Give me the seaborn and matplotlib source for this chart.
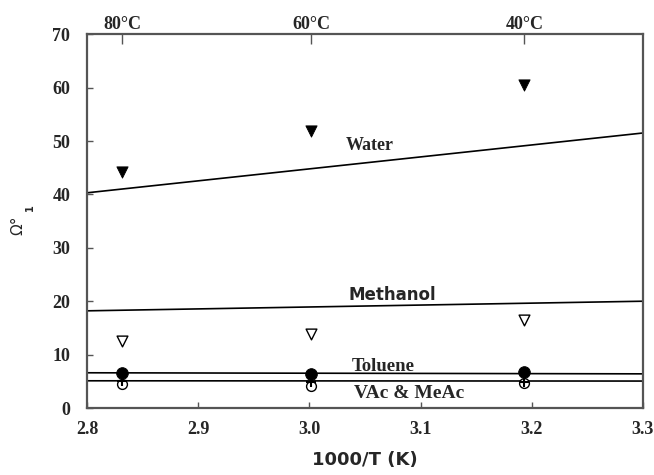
import pandas as pd
import matplotlib
matplotlib.use("Agg")
import matplotlib.pyplot as plt
import seaborn as sns

# inverse temperatures of the measurements (80, 60, 40 C)
inv_T = [2.8317, 3.0017, 3.1934]
temp_labels = ["80°C", "60°C", "40°C"]

# measured points
water_pts = [44.2, 51.9, 60.5]
methanol_pts = [12.5, 13.9, 16.5]
toluene_pts = [6.5, 6.3, 6.8]
vac_pts = [4.5, 4.2, 4.6]
meac_pts = [5.0, 4.9, 4.8]

# predicted lines, value at both ends of the axis
line_x = [2.8, 3.3]
water_line = [40.3, 51.5]
methanol_line = [18.2, 20.0]
toluene_line = [6.6, 6.4]
vac_line = [5.1, 5.05]

sns.set_style("ticks")
plt.rcParams["font.family"] = ["Liberation Serif", "DejaVu Serif"]

fig = plt.figure(figsize=(6.54, 4.75), dpi=100)
ax = fig.add_axes([0.133, 0.141, 0.85, 0.787])

lines = pd.DataFrame({
    "x": line_x * 4,
    "y": water_line + methanol_line + toluene_line + vac_line,
    "name": ["water"] * 2 + ["methanol"] * 2 + ["toluene"] * 2 + ["vac"] * 2,
})
sns.lineplot(data=lines, x="x", y="y", units="name", estimator=None,
             color="black", linewidth=1.2, ax=ax)

sns.scatterplot(x=inv_T, y=water_pts, marker="v", s=65, color="black",
                edgecolor="black", ax=ax, zorder=3)
sns.scatterplot(x=inv_T, y=methanol_pts, marker="v", s=60, facecolor="white",
                edgecolor="black", linewidth=1.0, ax=ax, zorder=3)
sns.scatterplot(x=inv_T, y=vac_pts, marker="o", s=50, facecolor="white",
                edgecolor="black", linewidth=1.0, ax=ax, zorder=3)
sns.scatterplot(x=inv_T, y=meac_pts, marker="+", s=60, color="black",
                linewidth=1.5, ax=ax, zorder=3)
sns.scatterplot(x=inv_T, y=toluene_pts, marker="o", s=70, color="black",
                edgecolor="black", ax=ax, zorder=4)

ax.set_xlim(2.8, 3.3)
ax.set_ylim(0, 70)
ax.set_xticks([2.8, 2.9, 3.0, 3.1, 3.2, 3.3])
ax.set_xticklabels(["2.8", "2.9", "3.0", "3.1", "3.2", "3.3"])
ax.set_yticks(range(0, 71, 10))
ax.tick_params(direction="in", length=4, width=1, color="#555555",
               labelsize=13)
ax.tick_params(axis="y", pad=12)
ax.tick_params(axis="x", pad=9)
for lab in ax.get_xticklabels() + ax.get_yticklabels():
    lab.set_fontweight("bold")
for sp in ax.spines.values():
    sp.set_linewidth(1.6)
    sp.set_color("#555555")

# temperature axis on top
top = ax.secondary_xaxis("top")
top.set_xticks(inv_T)
top.set_xticklabels(temp_labels, fontweight="bold", fontsize=13)
top.tick_params(direction="in", length=7, width=1, color="#555555", pad=1)
top.spines["top"].set_visible(False)

ax.set_xlabel("1000/T (K)", family="DejaVu Sans", fontweight="bold",
              fontsize=13, labelpad=10)
ax.set_ylabel("Ω°", family="DejaVu Sans", fontsize=11)
ax.yaxis.set_label_coords(-0.11, 0.49)
ax.text(-0.103, 0.535, "1", transform=ax.transAxes, rotation=90,
        family="DejaVu Sans", fontsize=7, fontweight="bold",
        ha="center", va="center")

ax.text(3.033, 48.3, "Water", fontweight="bold", fontsize=13)
ax.text(3.035, 20.2, "Methanol", family="DejaVu Sans", fontweight="bold", fontsize=12)
ax.text(3.038, 6.9, "Toluene", fontweight="bold", fontsize=13.5)
ax.text(3.04, 1.9, "VAc & MeAc", fontweight="bold", fontsize=14)

fig.savefig("out.png", dpi=100)
